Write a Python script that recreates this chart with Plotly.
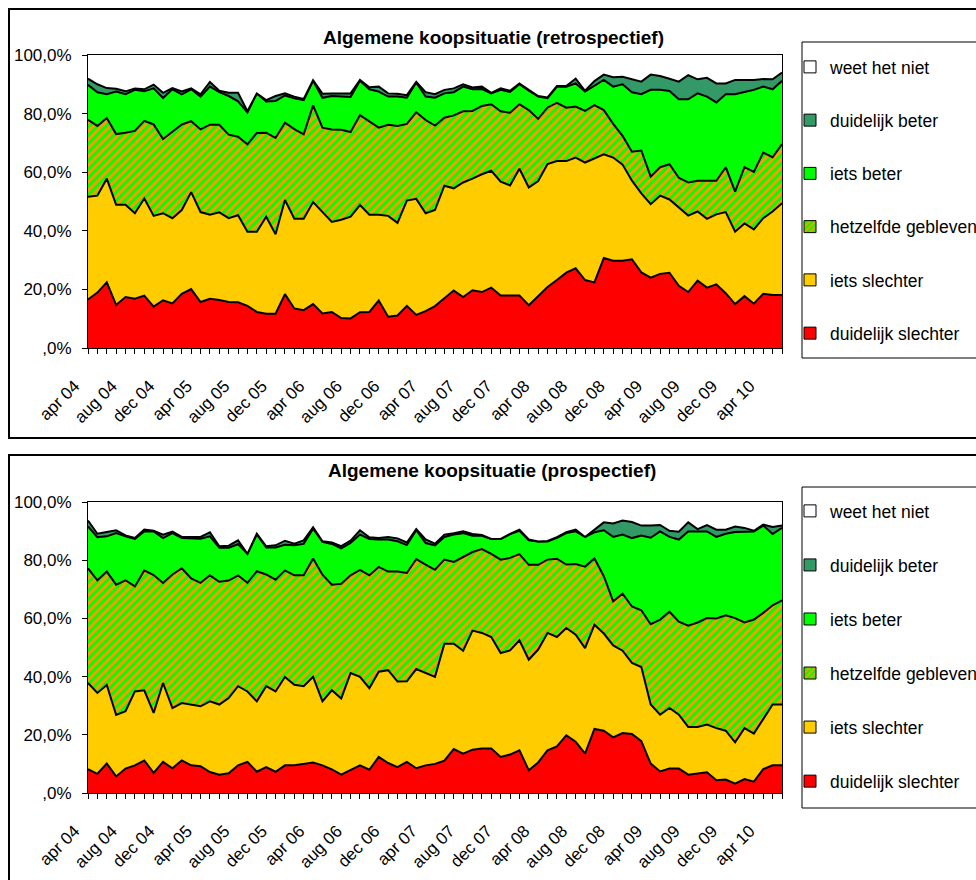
import plotly.graph_objects as go

# --- categories -------------------------------------------------------------
maanden = ["jan", "feb", "mrt", "apr", "mei", "jun", "jul", "aug", "sep", "okt", "nov", "dec"]
perioden = []
for k in range(75):  # apr 2004 .. jun 2010
    m = (3 + k) % 12
    jaar = 4 + (3 + k) // 12
    perioden.append(f"{maanden[m]} {jaar:02d}")

tick_labels = ["apr 04", "aug 04", "dec 04", "apr 05", "aug 05", "dec 05", "apr 06",
               "aug 06", "dec 06", "apr 07", "aug 07", "dec 07", "apr 08", "aug 08",
               "dec 08", "apr 09", "aug 09", "dec 09", "apr 10"]

y_tickvals = [0, 20, 40, 60, 80, 100]
y_ticktext = [",0%", "20,0%", "40,0%", "60,0%", "80,0%", "100,0%"]

reeksen = ["duidelijk slechter", "iets slechter", "hetzelfde gebleven",
           "iets beter", "duidelijk beter", "weet het niet"]

# --- retrospectief: cumulative share (%) up to and including each answer ----
retro_dl_slechter = [16.6, 18.9, 22.4, 14.7, 17.4, 16.8, 17.9, 14.1, 16.3, 15.2, 18.5, 20.1, 15.7, 16.8, 16.4, 15.7, 15.6, 14.4, 12.3, 11.7, 11.7, 18.4, 13.5, 12.9, 15.0,
                     11.8, 12.3, 10.2, 10.1, 12.2, 12.3, 16.2, 10.7, 11.1, 14.4, 11.3, 12.6, 14.3, 17.0, 19.6, 17.4, 19.7, 19.1, 20.6, 17.9, 17.9, 17.9, 14.6, 17.7, 20.8,
                     23.2, 25.7, 27.2, 23.2, 22.4, 30.7, 29.8, 29.8, 30.3, 25.8, 24.0, 25.3, 25.7, 21.2, 19.1, 23.0, 20.6, 21.7, 18.7, 15.0, 17.7, 15.1, 18.5, 18.1, 18.1]
retro_iets_slechter = [51.6, 52.0, 57.8, 48.9, 48.9, 46.0, 51.0, 45.1, 46.0, 44.3, 47.1, 53.2, 46.4, 45.5, 46.3, 44.3, 45.3, 39.7, 39.7, 44.8, 38.8, 50.5, 44.1, 44.1, 49.8,
                       46.5, 43.0, 43.8, 44.8, 48.8, 45.5, 45.5, 45.1, 42.7, 50.3, 50.9, 46.0, 47.1, 55.4, 54.5, 56.5, 57.8, 59.3, 60.5, 56.8, 55.5, 61.2, 54.8, 57.0, 62.8,
                       63.8, 63.8, 65.0, 63.3, 64.7, 66.1, 65.0, 62.6, 57.1, 52.8, 49.1, 52.0, 50.7, 47.9, 45.2, 46.6, 44.1, 45.6, 46.4, 39.7, 42.5, 40.5, 44.3, 46.6, 49.4]
retro_zelfde = [77.9, 75.8, 78.5, 73.0, 73.5, 74.1, 77.5, 76.3, 71.3, 73.9, 76.3, 77.4, 74.6, 76.2, 76.2, 72.8, 72.1, 69.5, 73.4, 73.5, 71.7, 76.9, 74.7, 72.9, 82.8,
                75.2, 74.6, 74.5, 73.7, 79.5, 77.2, 75.2, 76.2, 75.8, 76.5, 80.5, 77.8, 75.9, 78.6, 79.4, 80.8, 80.9, 82.6, 83.2, 80.8, 80.3, 83.2, 81.2, 78.2, 82.1,
                83.7, 82.0, 82.4, 80.9, 82.9, 81.2, 76.5, 72.4, 67.0, 67.4, 58.5, 61.7, 62.7, 58.1, 56.5, 57.1, 57.1, 57.1, 61.7, 53.4, 61.7, 60.1, 66.7, 65.1, 69.6]
retro_iets_beter = [89.8, 87.3, 86.6, 87.5, 86.6, 88.1, 87.6, 88.6, 85.3, 88.3, 86.6, 88.3, 85.8, 89.2, 87.3, 86.0, 84.2, 80.4, 86.9, 84.1, 84.3, 86.2, 85.2, 84.6, 91.2,
                    85.4, 86.0, 85.8, 85.7, 91.2, 88.3, 87.5, 85.8, 85.8, 85.4, 90.6, 85.8, 85.4, 86.9, 87.3, 89.2, 88.3, 88.4, 86.9, 88.1, 87.4, 90.0, 87.8, 85.8, 85.3,
                    89.2, 89.2, 90.3, 87.5, 89.4, 91.5, 89.2, 90.0, 87.3, 86.6, 88.1, 88.1, 87.7, 84.9, 84.9, 86.9, 85.8, 83.8, 86.6, 86.6, 87.4, 88.1, 89.2, 88.3, 91.2]
retro_dl_beter = [91.9, 90.0, 88.7, 88.5, 87.6, 88.6, 88.3, 89.9, 87.1, 88.7, 87.6, 88.6, 86.6, 90.8, 87.8, 87.1, 87.1, 80.8, 86.9, 84.6, 86.0, 86.9, 85.8, 85.0, 91.4,
                  86.8, 86.9, 86.8, 86.9, 91.5, 89.0, 89.2, 86.9, 86.8, 86.3, 90.8, 87.3, 86.6, 88.1, 88.6, 90.0, 88.9, 89.2, 87.1, 88.6, 87.8, 90.3, 88.1, 86.0, 85.5,
                  89.4, 89.4, 91.9, 87.8, 91.1, 93.3, 92.4, 92.6, 91.7, 90.9, 93.3, 92.8, 91.9, 90.9, 93.1, 91.7, 92.2, 90.3, 90.3, 91.5, 91.5, 91.5, 91.8, 91.7, 94.0]
retro_totaal = [100.0] * 75

# --- prospectief: cumulative share (%) up to and including each answer ------
pro_dl_slechter = [8.2, 6.6, 10.1, 5.7, 8.4, 9.5, 11.2, 6.9, 10.7, 8.5, 11.2, 9.5, 9.2, 7.2, 6.3, 6.8, 9.5, 10.7, 7.3, 8.9, 7.3, 9.5, 9.5, 10.1, 10.5,
                   9.5, 8.1, 6.3, 7.9, 9.5, 8.0, 12.4, 10.3, 8.9, 10.7, 8.5, 9.5, 10.0, 11.1, 15.1, 13.5, 14.9, 15.3, 15.3, 12.4, 13.2, 14.7, 7.8, 10.5, 14.7,
                   16.0, 19.8, 17.6, 13.5, 22.0, 21.4, 19.1, 20.6, 20.3, 17.8, 10.1, 7.4, 8.4, 8.4, 6.3, 6.6, 7.1, 4.4, 4.6, 3.2, 4.8, 3.9, 8.2, 9.5, 9.5]
pro_iets_slechter = [37.8, 34.4, 37.1, 26.8, 28.1, 34.9, 35.3, 27.5, 37.8, 29.2, 30.9, 30.4, 29.8, 31.5, 30.4, 32.6, 36.7, 34.9, 31.5, 36.7, 34.9, 39.9, 37.2, 36.7, 39.9,
                     31.5, 35.3, 32.5, 41.2, 39.9, 36.0, 41.7, 42.2, 38.3, 38.4, 42.6, 41.2, 39.9, 51.3, 51.3, 48.9, 55.8, 55.0, 53.6, 48.1, 49.0, 52.5, 45.8, 49.3, 55.0,
                     53.6, 56.7, 54.4, 49.8, 57.8, 54.8, 50.7, 48.9, 44.7, 43.3, 30.4, 26.9, 29.2, 26.9, 22.7, 22.7, 23.5, 22.3, 21.4, 17.4, 22.3, 20.4, 25.4, 30.4, 30.4]
pro_zelfde = [77.2, 73.1, 76.1, 71.6, 73.1, 71.0, 76.5, 74.9, 72.2, 75.1, 77.2, 73.7, 72.2, 74.8, 72.6, 73.0, 74.8, 72.2, 76.2, 75.1, 73.3, 76.5, 74.8, 74.8, 80.6,
              75.0, 71.6, 71.9, 74.8, 76.7, 74.8, 77.7, 76.1, 76.1, 75.6, 80.4, 78.5, 76.7, 80.2, 79.4, 81.1, 82.8, 83.8, 82.2, 80.2, 80.8, 82.1, 78.4, 78.4, 80.2,
              80.5, 78.5, 78.7, 77.8, 80.6, 74.5, 65.9, 68.5, 64.1, 62.8, 58.0, 59.6, 62.3, 58.9, 57.5, 58.6, 60.1, 60.0, 61.1, 60.1, 58.6, 59.6, 61.9, 64.5, 66.2]
pro_iets_beter = [91.6, 87.9, 88.2, 89.3, 88.2, 87.3, 89.9, 89.9, 87.6, 89.3, 87.6, 87.4, 87.4, 88.2, 84.3, 84.3, 85.5, 82.2, 88.9, 84.4, 84.4, 85.3, 85.1, 85.6, 90.8,
                  86.3, 85.6, 84.1, 85.9, 88.8, 87.3, 87.1, 87.1, 86.5, 85.2, 90.3, 85.9, 85.1, 88.0, 88.8, 89.3, 88.4, 88.4, 87.3, 87.3, 89.0, 90.1, 86.8, 86.4, 86.4,
                  87.7, 89.3, 89.9, 88.0, 89.6, 90.3, 88.0, 88.8, 87.6, 88.5, 87.7, 89.9, 88.0, 87.1, 89.9, 89.9, 89.9, 88.0, 89.1, 89.7, 89.7, 89.9, 91.9, 89.0, 91.1]
pro_dl_beter = [93.6, 89.1, 89.7, 90.3, 88.5, 87.6, 90.5, 90.1, 88.8, 89.8, 88.0, 88.0, 88.0, 89.6, 84.8, 85.0, 86.8, 82.2, 89.1, 84.8, 85.1, 86.7, 85.7, 86.8, 91.3,
                86.5, 86.1, 84.8, 86.7, 90.3, 87.9, 87.6, 88.0, 87.5, 86.1, 90.7, 87.1, 85.7, 88.8, 89.3, 89.9, 89.0, 88.7, 87.3, 87.3, 89.0, 90.5, 87.1, 86.4, 86.6,
                87.9, 89.6, 90.5, 88.0, 90.5, 93.0, 92.6, 93.6, 93.1, 91.9, 91.9, 92.1, 90.1, 89.8, 93.0, 90.7, 92.1, 90.5, 90.5, 91.6, 91.1, 90.1, 92.2, 91.4, 91.9]
pro_totaal = [100.0] * 75

# --- styling ----------------------------------------------------------------
FONT = "Liberation Sans, Arial, sans-serif"
kleuren = ["#FF0000", "#FFCC00", "#00FF00", "#00FF00", "#339966", "#FFFFFF"]
arcering = dict(shape="/", bgcolor="#00FF00", fgcolor="#FF9900", size=6,
                solidity=0.5, fillmode="replace")

W, H = 976, 880


def px_x(p):
    return p / W


def px_y(p):
    return 1 - p / H


fig = go.Figure()


def paneel(niveaus, xa, ya, legend_id):
    for i, (naam, y) in enumerate(zip(reeksen, niveaus)):
        kw = dict(fillcolor=kleuren[i])
        if naam == "hetzelfde gebleven":
            kw["fillpattern"] = arcering
        fig.add_trace(go.Scatter(
            x=perioden, y=y, name=naam, mode="lines",
            line=dict(color="black", width=0 if i == 5 else 2),
            fill="tozeroy" if i == 0 else "tonexty",
            showlegend=False, xaxis=xa, yaxis=ya,
            hovertemplate="%{x}: %{y:.1f}%<extra>" + naam + "</extra>",
            **kw))
    # legend entries (square swatches), top answer first
    for i in reversed(range(len(reeksen))):
        naam = reeksen[i]
        marker = dict(color=kleuren[i], line=dict(color="black", width=1))
        if naam == "hetzelfde gebleven":
            marker["pattern"] = dict(shape="/", bgcolor="#00FF00", fgcolor="#FF9900",
                                     size=5, solidity=0.5, fillmode="replace")
        fig.add_trace(go.Bar(x=[None], y=[None], name=naam, marker=marker,
                             legend=legend_id, legendgroup=legend_id + naam,
                             xaxis=xa, yaxis=ya, showlegend=True))


paneel([retro_dl_slechter, retro_iets_slechter, retro_zelfde,
        retro_iets_beter, retro_dl_beter, retro_totaal], "x", "y", "legend")
paneel([pro_dl_slechter, pro_iets_slechter, pro_zelfde,
        pro_iets_beter, pro_dl_beter, pro_totaal], "x2", "y2", "legend2")

# month labels every fourth month; trailing no-break spaces keep the rotated
# labels clear of the tick marks
ticktext = [p + "\u00a0" * 4 if p in tick_labels else "" for p in perioden]

x_common = dict(type="category", categoryorder="array", categoryarray=perioden,
                range=[0, len(perioden) - 1], tickmode="array", tickvals=perioden,
                ticktext=ticktext, tickangle=-45, ticks="outside", ticklen=5,
                tickcolor="black", showline=True, linecolor="black", linewidth=1,
                mirror=True, showgrid=False, zeroline=False, automargin=False,
                ticklabelstandoff=2,
                tickfont=dict(family=FONT, size=17, color="black"))
y_common = dict(range=[0, 100], tickmode="array", tickvals=y_tickvals,
                ticktext=y_ticktext, ticks="outside", ticklen=5, tickcolor="black",
                showline=True, linecolor="black", linewidth=1, mirror=True,
                showgrid=False, zeroline=False, ticklabelstandoff=7, automargin=False,
                tickfont=dict(family=FONT, size=17, color="black"))

plot_x = [px_x(88), px_x(782)]

legend_common = dict(traceorder="grouped",
                     font=dict(family=FONT, size=17.5, color="black"),
                     bgcolor="rgba(0,0,0,0)", borderwidth=0,
                     xanchor="left", yanchor="top", itemclick=False)

fig.update_layout(
    width=W, height=H, autosize=False,
    margin=dict(l=0, r=0, t=0, b=0, autoexpand=False),
    paper_bgcolor="white", plot_bgcolor="white",
    showlegend=True,
    xaxis=dict(domain=plot_x, anchor="y", **x_common),
    yaxis=dict(domain=[px_y(348), px_y(55)], anchor="x", **y_common),
    xaxis2=dict(domain=plot_x, anchor="y2", **x_common),
    yaxis2=dict(domain=[px_y(793), px_y(502)], anchor="x2", **y_common),
    legend=dict(x=px_x(790), y=px_y(49), tracegroupgap=27.5, **legend_common),
    legend2=dict(x=px_x(790), y=px_y(493), tracegroupgap=28.3, **legend_common),
    annotations=[
        dict(text="<b>Algemene koopsituatie (retrospectief)</b>", x=px_x(493), y=px_y(25),
             xref="paper", yref="paper", showarrow=False,
             font=dict(family=FONT, size=19, color="black")),
        dict(text="<b>Algemene koopsituatie (prospectief)</b>", x=px_x(492), y=px_y(470),
             xref="paper", yref="paper", showarrow=False,
             font=dict(family=FONT, size=19, color="black")),
    ],
    shapes=[
        # chart frames
        dict(type="rect", xref="paper", yref="paper", x0=px_x(9), x1=px_x(990),
             y0=px_y(438), y1=px_y(9), line=dict(color="black", width=2)),
        dict(type="rect", xref="paper", yref="paper", x0=px_x(9), x1=px_x(990),
             y0=px_y(895), y1=px_y(455), line=dict(color="black", width=2)),
        # legend boxes
        dict(type="rect", xref="paper", yref="paper", x0=px_x(802), x1=px_x(990),
             y0=px_y(358), y1=px_y(42), line=dict(color="black", width=1)),
        dict(type="rect", xref="paper", yref="paper", x0=px_x(802), x1=px_x(990),
             y0=px_y(808), y1=px_y(487), line=dict(color="black", width=1)),
    ],
)

fig.write_html("out.html")
